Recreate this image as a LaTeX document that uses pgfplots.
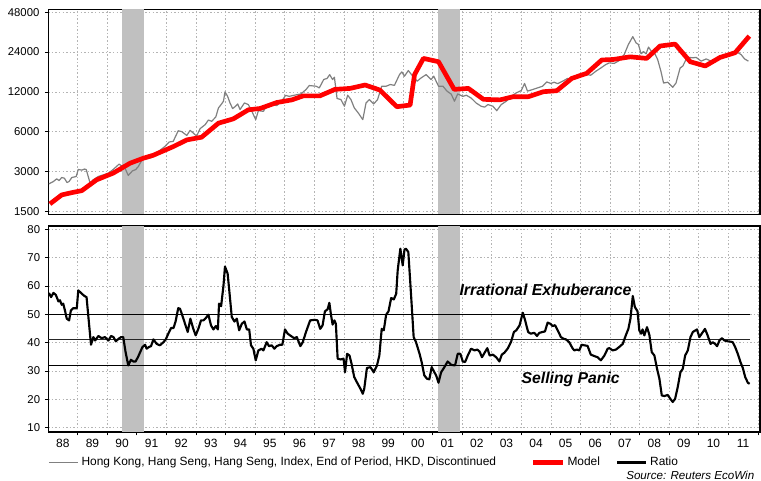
\documentclass[border=0pt]{standalone}
\usepackage{fontspec}
\setmainfont{Liberation Sans}
\usepackage{pgfplots}
\pgfplotsset{compat=1.18}

\definecolor{hsgray}{HTML}{808080}
\definecolor{recess}{HTML}{C0C0C0}
\definecolor{gridc}{HTML}{B4B4B4}

% Hang Seng index, monthly-ish
\pgfplotstableread{
yr val
1988.03 2420
1988.18 2520
1988.29 2640
1988.37 2560
1988.46 2700
1988.55 2670
1988.64 2475
1988.71 2520
1988.80 2700
1988.95 2750
1989.02 3110
1989.14 3070
1989.23 3130
1989.29 3100
1989.42 2450
1989.53 2600
1989.70 2750
1989.87 2830
1990.04 2915
1990.21 3120
1990.40 3410
1990.60 3180
1990.71 2800
1990.85 3030
1990.96 3100
1991.05 3270
1991.19 3720
1991.33 3740
1991.50 3830
1991.73 4250
1991.95 4640
1992.09 5010
1992.23 5070
1992.40 6100
1992.52 6000
1992.69 5620
1992.80 6140
1992.91 5860
1993.02 5550
1993.14 6330
1993.31 6780
1993.42 7350
1993.53 7190
1993.67 7750
1993.76 9080
1993.85 9620
1993.93 10200
1993.98 12000
1994.07 11100
1994.15 9900
1994.24 8970
1994.34 9350
1994.41 9730
1994.49 8820
1994.64 9900
1994.77 9620
1994.88 8650
1995.02 7400
1995.11 8650
1995.28 8550
1995.39 9450
1995.56 9620
1995.73 9450
1995.90 10200
1996.03 11300
1996.15 11100
1996.32 11320
1996.55 11580
1996.72 12500
1996.83 13400
1997.06 13250
1997.17 12870
1997.32 14900
1997.43 15150
1997.52 16200
1997.62 14880
1997.68 15500
1997.77 10700
1997.90 10500
1998.02 9350
1998.13 11320
1998.24 10500
1998.35 9100
1998.49 8300
1998.64 7400
1998.75 9900
1998.86 10500
1999.01 9730
1999.14 10500
1999.28 13250
1999.43 13250
1999.57 13640
1999.71 13450
1999.88 16200
1999.96 17000
2000.05 15780
2000.18 17400
2000.33 15780
2000.48 14460
2000.61 15300
2000.78 16200
2000.95 14880
2001.04 15780
2001.20 13250
2001.35 13250
2001.49 12140
2001.63 11550
2001.74 10200
2001.85 11580
2002.02 11100
2002.14 11320
2002.30 10800
2002.47 9900
2002.64 9350
2002.76 9200
2002.87 9620
2003.04 9350
2003.17 8650
2003.32 9620
2003.49 10200
2003.66 11100
2003.83 11800
2004.00 12280
2004.11 13900
2004.21 12150
2004.38 12500
2004.55 12870
2004.72 13250
2004.86 14270
2005.00 13900
2005.11 14200
2005.23 13850
2005.40 14460
2005.56 15150
2005.73 14880
2005.90 15760
2006.07 16200
2006.24 16200
2006.35 16050
2006.52 17200
2006.69 18200
2006.86 19350
2006.98 19900
2007.14 19700
2007.31 20700
2007.48 23000
2007.62 27400
2007.77 31400
2007.88 28200
2007.96 27400
2008.05 23300
2008.13 24200
2008.22 23300
2008.30 26200
2008.39 24500
2008.50 23700
2008.61 21100
2008.72 17200
2008.81 14000
2008.95 14200
2009.12 13000
2009.23 14000
2009.37 18200
2009.46 18800
2009.57 21100
2009.68 21900
2009.80 21700
2009.91 21900
2010.08 20500
2010.25 21300
2010.42 20500
2010.59 21000
2010.76 22400
2010.93 23000
2011.09 23400
2011.26 24200
2011.43 23000
2011.55 21300
2011.68 20500
}\hangseng

\pgfplotstableread{
yr val
1988.06 1705
1988.46 1995
1988.80 2076
1989.14 2150
1989.64 2595
1990.20 2915
1990.77 3465
1991.22 3780
1991.56 3985
1992.23 4625
1992.69 5200
1993.19 5450
1993.76 6960
1994.26 7500
1994.77 8780
1995.17 8990
1995.73 9970
1996.24 10440
1996.63 11200
1997.19 11200
1997.70 12540
1998.21 12750
1998.72 13530
1999.22 12390
1999.79 9270
2000.24 9540
2000.39 16200
2000.69 21500
2001.20 20300
2001.73 12540
2002.21 12750
2002.72 10540
2003.28 10440
2003.73 11040
2004.24 11040
2004.75 12040
2005.20 12250
2005.71 15190
2006.21 16570
2006.72 20920
2007.11 21100
2007.68 22100
2008.24 21500
2008.69 26670
2009.20 27600
2009.71 20300
2010.22 18840
2010.72 21870
2011.23 23750
2011.71 31700
}\model

\pgfplotstableread{
yr val
1988.03 57.6
1988.10 56.1
1988.18 57.6
1988.26 56.9
1988.35 54.6
1988.40 55.0
1988.46 53.4
1988.51 53.8
1988.57 51.4
1988.63 48.5
1988.71 47.9
1988.77 51.4
1988.85 52.2
1988.97 52.2
1989.02 58.5
1989.14 57.3
1989.23 56.5
1989.30 56.1
1989.45 39.3
1989.53 42.0
1989.59 40.8
1989.70 42.4
1989.81 41.6
1989.92 42.0
1990.04 40.8
1990.13 42.4
1990.21 42.0
1990.29 40.5
1990.38 41.4
1990.47 42.0
1990.54 42.0
1990.62 36.7
1990.71 32.0
1990.80 34.0
1990.88 33.4
1990.96 33.4
1991.05 35.2
1991.19 38.5
1991.28 39.3
1991.33 37.9
1991.41 38.5
1991.48 38.8
1991.56 41.2
1991.67 39.6
1991.78 39.1
1991.90 40.2
1991.98 41.2
1992.09 43.8
1992.16 45.2
1992.24 45.2
1992.31 47.5
1992.40 52.2
1992.46 52.0
1992.54 49.6
1992.63 46.7
1992.72 43.8
1992.81 48.5
1992.91 44.9
1992.99 42.6
1993.08 44.9
1993.17 47.9
1993.25 47.9
1993.33 48.7
1993.42 49.9
1993.51 46.1
1993.59 44.7
1993.67 45.9
1993.74 44.7
1993.78 53.8
1993.85 52.9
1993.93 60.2
1993.98 66.9
1994.07 64.4
1994.12 59.1
1994.21 49.1
1994.30 47.5
1994.38 48.5
1994.46 44.4
1994.55 46.7
1994.64 47.5
1994.72 44.7
1994.80 44.7
1994.86 39.1
1994.94 37.9
1995.02 33.8
1995.11 37.3
1995.22 37.9
1995.28 37.3
1995.39 40.2
1995.47 38.8
1995.56 39.1
1995.65 37.9
1995.73 38.8
1995.84 39.3
1995.92 39.3
1996.01 44.7
1996.10 43.2
1996.21 42.4
1996.32 41.6
1996.41 42.0
1996.53 38.8
1996.61 40.2
1996.72 43.8
1996.86 47.9
1997.02 48.1
1997.11 47.9
1997.20 44.9
1997.28 46.1
1997.36 51.1
1997.45 51.8
1997.51 54.1
1997.56 50.2
1997.62 46.4
1997.68 47.9
1997.73 46.7
1997.79 34.4
1997.90 34.1
1997.99 34.4
1998.04 29.6
1998.11 36.1
1998.19 35.5
1998.26 32.6
1998.35 27.9
1998.47 25.5
1998.56 23.8
1998.64 22.0
1998.69 23.8
1998.78 31.1
1998.90 31.4
1999.01 29.6
1999.12 32.0
1999.20 35.5
1999.28 44.9
1999.35 44.4
1999.43 49.9
1999.51 51.1
1999.60 55.8
1999.69 55.3
1999.77 57.3
1999.82 65.5
1999.91 73.2
1999.99 67.3
2000.05 72.9
2000.10 73.2
2000.18 72.0
2000.27 57.3
2000.36 42.0
2000.44 40.2
2000.56 36.1
2000.63 33.2
2000.72 28.5
2000.81 27.3
2000.89 27.1
2000.97 31.4
2001.06 29.6
2001.12 28.5
2001.20 25.9
2001.29 29.6
2001.40 31.4
2001.51 33.4
2001.63 32.2
2001.76 32.0
2001.85 36.1
2001.94 36.1
2002.02 33.4
2002.10 33.2
2002.19 35.5
2002.30 37.9
2002.42 37.3
2002.51 37.6
2002.59 36.9
2002.67 34.9
2002.76 36.5
2002.85 38.1
2002.93 35.5
2003.04 35.8
2003.15 34.9
2003.26 33.4
2003.34 35.8
2003.43 36.5
2003.55 38.1
2003.66 40.5
2003.75 43.8
2003.83 44.4
2003.94 46.1
2004.05 50.6
2004.13 47.9
2004.23 43.8
2004.32 43.2
2004.44 43.5
2004.53 42.4
2004.61 43.5
2004.72 43.8
2004.80 44.0
2004.89 47.1
2004.98 46.7
2005.06 45.9
2005.14 46.2
2005.23 44.4
2005.34 42.0
2005.43 41.4
2005.51 41.2
2005.62 40.2
2005.73 38.1
2005.79 37.3
2005.88 37.6
2005.96 37.3
2006.04 39.3
2006.13 39.1
2006.24 38.9
2006.35 35.8
2006.47 35.3
2006.58 34.9
2006.69 33.8
2006.81 35.5
2006.92 37.9
2006.98 38.1
2007.09 37.3
2007.20 37.6
2007.31 38.5
2007.43 39.6
2007.54 42.8
2007.62 44.9
2007.69 48.5
2007.77 56.5
2007.84 52.6
2007.93 51.1
2007.99 44.4
2008.05 43.2
2008.10 44.7
2008.16 42.6
2008.25 45.5
2008.33 42.8
2008.41 36.7
2008.50 35.5
2008.59 30.8
2008.67 27.3
2008.75 21.4
2008.84 21.2
2008.95 21.6
2009.04 20.2
2009.12 19.1
2009.20 20.2
2009.29 24.4
2009.38 29.6
2009.46 30.8
2009.54 35.5
2009.63 37.3
2009.72 42.0
2009.80 43.8
2009.94 44.7
2010.02 42.0
2010.14 43.8
2010.21 44.9
2010.30 42.6
2010.40 39.6
2010.47 40.2
2010.55 39.6
2010.62 38.8
2010.70 40.8
2010.78 41.6
2010.87 40.8
2010.98 40.5
2011.07 40.4
2011.15 40.2
2011.23 38.5
2011.32 36.1
2011.41 33.2
2011.49 31.1
2011.57 27.9
2011.66 25.9
2011.72 25.5
}\ratio

\pgfplotsset{
  hkbase/.style={
    scale only axis, width=533.9pt,
    xmin=1988, xmax=2012.07,
    axis line style={black, line width=0.9pt},
    clip=false,
    xtick={1989,...,2012},
    grid=major,
    major grid style={gridc, line width=0.45pt, dash pattern=on 1.1pt off 1.6pt},
    tick style={black, line width=0.5pt},
    major tick length=2.5pt,
    tick align=outside,
    xtick pos=left, ytick pos=left,
    tick label style={font=\fontsize{8.5}{10}\selectfont},
    /pgf/number format/assume math mode=true,
  }
}

\begin{document}
\begin{tikzpicture}
% upper panel: index and model, log scale
\begin{axis}[hkbase,
  at={(36.08pt,-6.98pt)}, anchor=north west,
  height=153.75pt,
  ymode=log, ymin=1423, ymax=50560,
  ytick={1500,3000,6000,12000,24000,48000},
  yticklabels={1500,3000,6000,12000,24000,48000},
  xticklabels={},
  xtick style={draw=none},
  yticklabel style={xshift=-0.5pt},
]
\fill[recess] (axis cs:1990.5,1423) rectangle (axis cs:1991.25,50560);
\fill[recess] (axis cs:2001.17,1423) rectangle (axis cs:2001.92,50560);
\addplot[hsgray, line width=0.9pt, line join=round] table[x=yr,y=val] {\hangseng};
\addplot[red, line width=3.5pt, line join=round] table[x=yr,y=val] {\model};
\end{axis}

% lower panel: ratio
\begin{axis}[hkbase,
  at={(36.08pt,-169.5pt)}, anchor=north west,
  height=154.5pt,
  ymin=8.5, ymax=81.2,
  ytick={10,20,...,80},
  xticklabels={},
  extra x ticks={1988.5,1989.5,...,2011.5},
  extra x tick labels={88,89,90,91,92,93,94,95,96,97,98,99,00,01,02,03,04,05,06,07,08,09,10,11},
  extra x tick style={major tick length=0pt, grid=none,
    xticklabel style={font=\fontsize{9}{10}\selectfont, yshift=-2pt}},
  legend style={at={(axis description cs:0.0,-0.148)}, anchor=west,
    draw=none, fill=none, inner sep=0pt, legend columns=3,
    font=\fontsize{8.95}{10}\selectfont,
    /tikz/column 2/.style={column sep=24pt},
    /tikz/column 4/.style={column sep=10pt}},
  legend cell align=left,
  legend image code/.code={\draw[#1] (0pt,0pt) -- (22pt,0pt);},
]
\fill[recess] (axis cs:1990.5,8.5) rectangle (axis cs:1991.25,81.2);
\fill[recess] (axis cs:2001.17,8.5) rectangle (axis cs:2001.92,81.2);
\addplot[black, line width=1pt, forget plot] coordinates {(1988,50) (2011.72,50)};
\addplot[black!85, line width=0.8pt, forget plot] coordinates {(1988,41) (2011.72,41)};
\addplot[black, line width=1pt, forget plot] coordinates {(1988,32) (2011.72,32)};
\addlegendimage{hsgray, line width=0.9pt}
\addlegendentry{Hong Kong, Hang Seng, Hang Seng, Index, End of Period, HKD, Discontinued}
\addlegendimage{red, line width=3.5pt}
\addlegendentry{Model}
\addplot[black, line width=1.6pt, line join=round] table[x=yr,y=val] {\ratio};
\addlegendentry{Ratio}
\node[font=\fontsize{11.9}{13}\selectfont\bfseries\itshape] at (axis cs:2004.82,58.7) {Irrational Exhuberance};
\node[font=\fontsize{11.8}{13}\selectfont\bfseries\itshape] at (axis cs:2005.67,27.1) {Selling Panic};
\node[anchor=west, inner sep=0pt, font=\fontsize{8.7}{11}\selectfont\itshape] at (rel axis cs:0.8118,-0.210) {Source: Reuters EcoWin};
\end{axis}
\pgfresetboundingbox
\useasboundingbox (0pt,0pt) rectangle (570.75pt,-360pt);
\end{tikzpicture}
\end{document}
